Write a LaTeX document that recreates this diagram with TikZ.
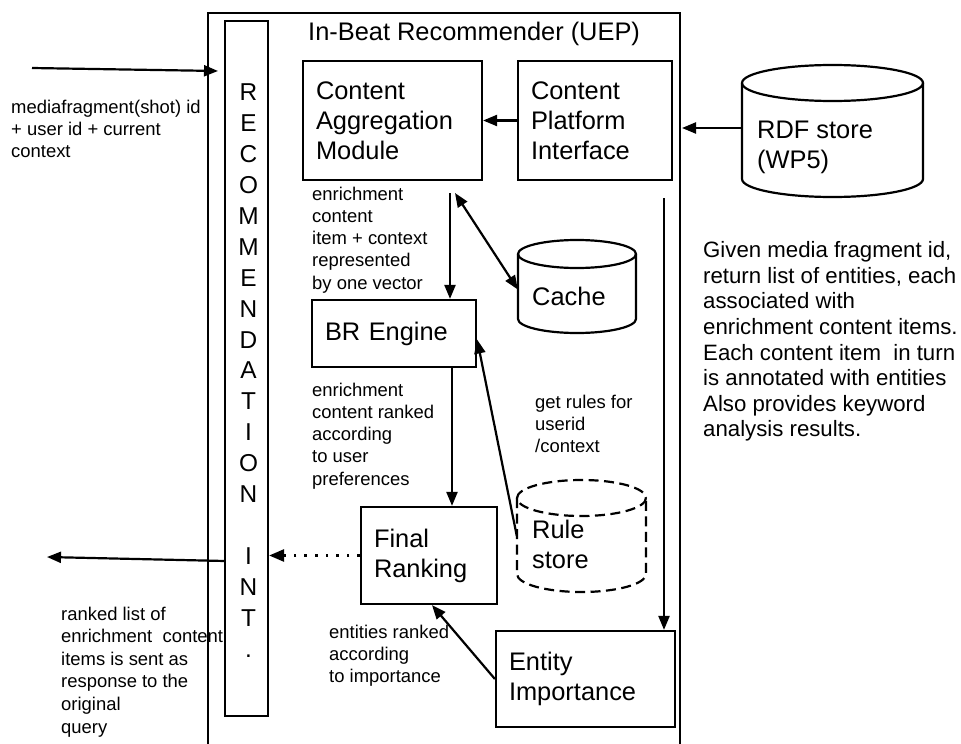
\documentclass[tikz,border=0pt]{standalone}
\usepackage{fontspec}
\setmainfont{Liberation Sans}
\usetikzlibrary{arrows.meta}

% font sizes used in the diagram
\newcommand\fbig{\fontsize{25.5}{30}\selectfont}
\newcommand\fsmall{\fontsize{18.5}{22.3}\selectfont}
\newcommand\fnote{\fontsize{22.3}{25.7}\selectfont}
\newcommand\fletter{\fontsize{24.5}{31}\selectfont}

% cylinder outline: #1 style, #2 left, #3 top, #4 right, #5 bottom, #6 cap radius,
% #7 centre x, #8 top-cap centre y, #9 half width
\newcommand\drawcyl[9]{%
  \draw[#1] (#2,#8) -- (#2,#5-#6) arc[start angle=180,end angle=0,x radius=#9,y radius=#6] -- (#4,#8);
  \draw[#1] (#7,#8) ellipse [x radius=#9, y radius=#6];
}

\tikzset{
  thick line/.style={line width=2.2bp},
  blk/.style={draw, thick line, font=\fbig, align=left, inner xsep=13bp, inner ysep=0pt},
  lab/.style={anchor=base west, inner sep=0pt, align=left, font=\fsmall},
  arr/.style={thick line, -{Triangle[length=14bp,width=11bp]}},
  dblarr/.style={thick line, {Triangle[length=14bp,width=11bp]}-{Triangle[length=14bp,width=11bp]}},
  dotarr/.style={line width=2.6bp, dash pattern=on 2.6bp off 8bp, -{Triangle[length=15bp,width=12bp]}},
}

\begin{document}
\begin{tikzpicture}[x=1bp, y=-1bp]
\useasboundingbox (0,0) rectangle (961,744);

% recommender frame (open at the bottom)
\draw[thick line] (208,746) -- (208,13) -- (680,13) -- (680,746);
\node[anchor=base west, inner sep=0pt, font=\fbig] (title) at (308,41) {In-Beat Recommender (UEP)};

% recommendation interface column; multi-line texts are placed by their last baseline
\node[draw, thick line, minimum width=43bp, minimum height=695bp, inner sep=0pt] (rec) at (246.5,368.5) {};
\node[anchor=base, inner sep=0pt, align=center, font=\fletter] (recletters) at (248.5,657)
  {R\\E\\C\\O\\M\\M\\E\\N\\D\\A\\T\\I\\O\\N\\[31bp]I\\N\\T\\.};

% processing blocks
\node[blk, text width=153bp, minimum height=119bp] (cam) at (392.5,120.5) {Content\\Aggregation\\Module};
\node[blk, text width=128bp, minimum height=119bp] (cpi) at (595,120.5) {Content\\Platform\\Interface};
\node[blk, text width=138bp, minimum height=67bp] (br) at (394,333.5) {BR Engine};
\node[blk, text width=110bp, minimum height=97bp] (fin) at (429,555.5) {Final\\Ranking};
\node[blk, text width=153bp, minimum height=96bp] (ent) at (585.5,679) {Entity\\Importance};

% stores
\drawcyl{thick line}{742}{65}{923}{197}{18}{832.5}{83}{90.5}
\node[inner sep=0pt, minimum width=181bp, minimum height=132bp] (rdf) at (832.5,131) {};
\node[anchor=base west, inner sep=0pt, align=left, font=\fbig] (rdftext) at (757,168) {RDF store\\(WP5)};

\drawcyl{thick line}{518}{240}{636}{333}{14}{577}{254}{59}
\node[inner sep=0pt, minimum width=118bp, minimum height=93bp] (cache) at (577,286.5) {};
\node[anchor=base west, inner sep=0pt, font=\fbig] (cachetext) at (532,305) {Cache};

\drawcyl{thick line, dash pattern=on 10bp off 5.5bp}{517}{480}{646}{592}{18}{581.5}{498}{64.5}
\node[inner sep=0pt, minimum width=129bp, minimum height=112bp] (rule) at (581.5,536) {};
\node[anchor=base west, inner sep=0pt, align=left, font=\fbig] (ruletext) at (532,568) {Rule\\store};

% free ends of connectors
\coordinate (inStart) at (32,68);
\coordinate (inEnd) at (218,71);
\coordinate (outEnd) at (47,557);
\coordinate (outStart) at (225,561);
\coordinate (frameRight) at (682,128);
\coordinate (camOut) at (450,193);
\coordinate (camCache) at (455,193);
\coordinate (feedTop) at (664,198);

% connectors
\draw[arr] (inStart) -- (inEnd);
\draw[arr] (cpi.west) -- (cam.east);
\draw[arr] (rdf.west |- frameRight) -- (frameRight);
\draw[dblarr] (camCache) -- ([yshift=-3bp]cache.west);
\draw[arr] (camOut) -- (camOut |- br.north);
\draw[arr] ([xshift=58bp]br.south) -- ([xshift=58bp]br.south |- fin.north);
\draw[arr] (rule.west) -- ([yshift=-6bp]br.east);
\draw[arr] (feedTop) -- (feedTop |- ent.north);
\draw[arr] (ent.west) -- ([xshift=3bp]fin.south);
\draw[dotarr] (fin.west) -- (fin.west -| rec.east);
\draw[arr] (outStart) -- (outEnd);

% annotations
\node[lab] (inlab) at (11,157.6) {mediafragment(shot) id\\+ user id + current\\context};
\node[lab] (lab1) at (312,289.2) {enrichment\\content\\item + context\\represented\\by one vector};
\node[lab] (lab2) at (312,485.2) {enrichment\\content ranked\\according\\to user\\preferences};
\node[lab] (lab3) at (535,452.6) {get rules for\\userid\\/context};
\node[lab] (lab4) at (329,682.6) {entities ranked\\according\\to importance};
\node[lab, font=\fontsize{18.5}{22.6}\selectfont] (outlab) at (61,733) {ranked list of\\enrichment\ \ content\\items is sent as\\response to the\\original\\query};
\node[lab, font=\fnote] (note) at (703,436.9) {Given media fragment id,\\return list of entities, each\\associated with\\enrichment content items.\\Each content item\ \ in turn\\is annotated with entities\\Also provides keyword\\analysis results.};
\end{tikzpicture}
\end{document}
